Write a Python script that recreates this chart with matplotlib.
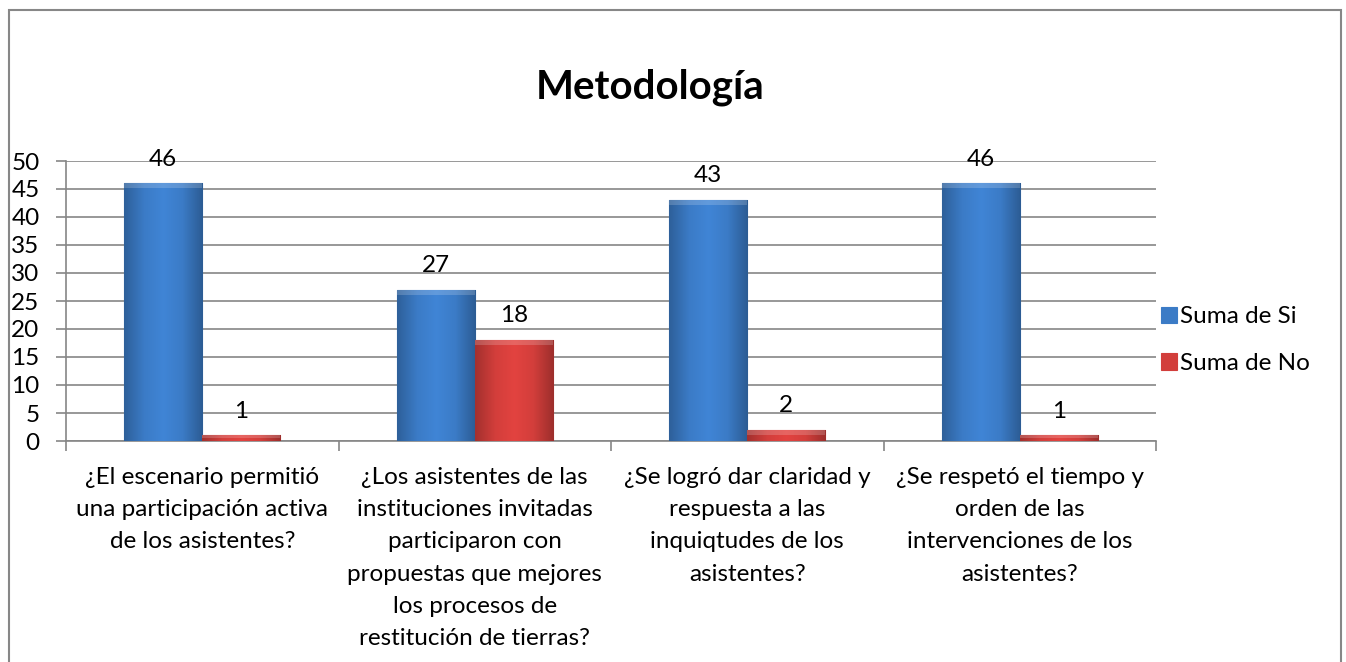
import numpy as np
import matplotlib
matplotlib.use("Agg")
import matplotlib.pyplot as plt
from matplotlib.patches import Rectangle
from matplotlib.colors import LinearSegmentedColormap, to_rgb

plt.rcParams['font.family'] = ['Lato', 'DejaVu Sans']

categories = [
    "¿El escenario permitió\nuna participación activa\nde los asistentes?",
    "¿Los asistentes de las\ninstituciones invitadas\nparticiparon con\npropuestas que mejores\nlos procesos de\nrestitución de tierras?",
    "¿Se logró dar claridad y\nrespuesta a las\ninquiqtudes de los\nasistentes?",
    "¿Se respetó el tiempo y\norden de las\nintervenciones de los\nasistentes?",
]
suma_si = [46, 27, 43, 46]
suma_no = [1, 18, 2, 1]
series_names = ["Suma de Si", "Suma de No"]

blue = '#3B7BC6'
red = '#D23E3B'
grid_col = '#868686'

fig = plt.figure(figsize=(13.46, 6.62), dpi=100)
ax = fig.add_axes([66 / 1346, 1 - 441 / 662, 1090 / 1346, 280 / 662])

# outer chart frame
fig.patches.append(Rectangle((9 / 1346, -0.02), 1332 / 1346, 1 - 10 / 662 + 0.02,
                             transform=fig.transFigure, fill=False,
                             edgecolor='#878787', linewidth=1.5))

x = np.arange(len(categories))
w = 0.287


def shaded_bars(xs, vals, color, label):
    bars = ax.bar(xs, vals, width=w, color=color, edgecolor=color, linewidth=0.8,
                  label=label, zorder=3)
    base = np.array(to_rgb(color))
    cmap = LinearSegmentedColormap.from_list(
        'g', [base * 0.78, base, np.minimum(base * 1.08, 1), base, base * 0.75])
    grad = np.linspace(0, 1, 64).reshape(1, -1)
    for b in bars:
        bx, by = b.get_x(), b.get_y()
        bw, bh = b.get_width(), b.get_height()
        im = ax.imshow(grad, cmap=cmap, aspect='auto', extent=(bx, bx + bw, by, by + bh),
                       zorder=3.5, interpolation='bicubic')
        im.set_clip_path(b)
        # lighter top bevel
        top = min(0.9, bh * 0.5)
        ax.fill_between([bx, bx + bw], by + bh - top, by + bh, color='white', alpha=0.18,
                        zorder=3.6, linewidth=0)
    return bars


shaded_bars(x - w / 2, suma_si, blue, series_names[0])
shaded_bars(x + w / 2, suma_no, red, series_names[1])

for xs, vals in [(x - w / 2, suma_si), (x + w / 2, suma_no)]:
    for xi, v in zip(xs, vals):
        ax.annotate(str(v), (xi, v), xytext=(0, 10), textcoords='offset points',
                    ha='center', va='bottom', fontsize=17.5, zorder=5)

ax.set_xlim(-0.5, len(categories) - 0.5)
ax.set_ylim(0, 50)
ax.set_yticks(range(0, 51, 5))
ax.yaxis.grid(True, color=grid_col, linewidth=1.2, zorder=0)
ax.set_axisbelow(True)

ax.set_xticks(x)
ax.set_xticklabels(categories, fontsize=17.5, linespacing=1.65)
ax.set_xticks(np.arange(len(categories) + 1) - 0.5, minor=True)
ax.tick_params(axis='x', which='major', length=0, pad=19)
ax.tick_params(axis='x', which='minor', length=7, color=grid_col, width=1.2)
ax.tick_params(axis='y', length=7, color=grid_col, width=1.2, labelsize=17.5, pad=12)

for s in ['top', 'right']:
    ax.spines[s].set_visible(False)
for s in ['left', 'bottom']:
    ax.spines[s].set_color(grid_col)
    ax.spines[s].set_linewidth(1.2)

fig.text(650 / 1346, 1 - 87 / 662, "Metodología", ha='center', va='center',
         fontsize=29, fontweight='bold')

ax.legend(loc='center left', bbox_to_anchor=(1.0, 0.36), frameon=False, fontsize=17.5,
          handlelength=0.65, handleheight=0.65, handletextpad=0.15, labelspacing=1.05,
          borderaxespad=0, borderpad=0.2)

fig.savefig('out.png', dpi=100)
